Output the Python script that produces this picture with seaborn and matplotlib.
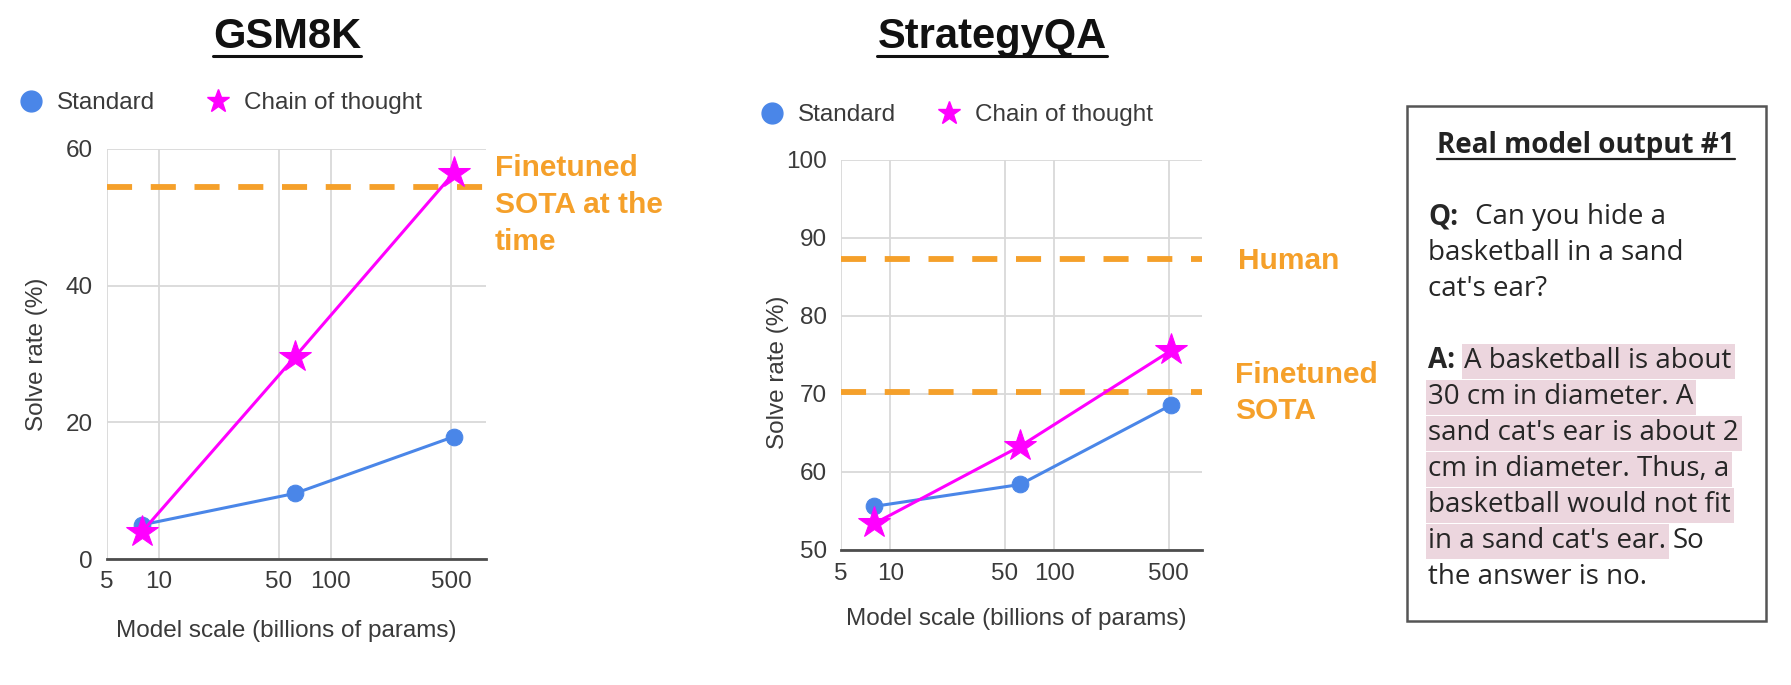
import matplotlib
matplotlib.use('Agg')
import matplotlib.pyplot as plt
import pandas as pd
import seaborn as sns
from matplotlib.lines import Line2D
from matplotlib.patches import Rectangle

# values
params = [8, 62, 520]
methods = ['Standard', 'Chain of thought']
gsm_standard = [5.0, 9.6, 17.9]
gsm_cot = [4.0, 29.6, 56.5]
gsm_sota = 54.5
sqa_standard = [55.6, 58.4, 68.6]
sqa_cot = [53.4, 63.3, 75.6]
sqa_human = 87.3
sqa_sota = 70.2
x_ticks = [5, 10, 50, 100, 500]
gsm_yticks = [0, 20, 40, 60]
sqa_yticks = [50, 60, 70, 80, 90, 100]

BLUE = '#4a86e8'
MAGENTA = '#ff00ff'
ORANGE = '#f5a02a'
GRID = '#d9d9d9'
TXT = '#3a3a3a'
PINK = '#ecd6de'

sns.set_style('white')
plt.rcParams['font.family'] = ['Liberation Sans', 'DejaVu Sans']

W, H = 1791, 685
fig = plt.figure(figsize=(W / 100, H / 100), dpi=100)


def fx(x):
    return x / W


def fy(y):
    return 1 - y / H


def make_df(std, cot):
    return pd.DataFrame({
        'params': params * 2,
        'rate': std + cot,
        'method': [methods[0]] * 3 + [methods[1]] * 3,
    })


def draw_panel(ax, df, ylim, yticks, refs):
    for val in refs:
        ax.axhline(val, color=ORANGE, lw=4.2, dashes=(4.3, 3.2),
                   dash_capstyle='butt', zorder=1.5)
    sns.lineplot(data=df[df['method'] == methods[0]], x='params', y='rate',
                 color=BLUE, lw=2.2, marker='o', markersize=12,
                 markeredgecolor=BLUE, legend=False, ax=ax, zorder=3)
    sns.lineplot(data=df[df['method'] == methods[1]], x='params', y='rate',
                 color=MAGENTA, lw=2.2, marker='*', markersize=24,
                 markeredgecolor=MAGENTA, legend=False, ax=ax, zorder=4)
    ax.set_xscale('log')
    ax.set_xlim(5, 800)
    ax.set_ylim(*ylim)
    ax.set_xticks(x_ticks)
    ax.set_xticklabels([str(t) for t in x_ticks])
    ax.minorticks_off()
    ax.set_yticks(yticks)
    ax.grid(True, color=GRID, lw=1.3)
    ax.set_axisbelow(True)
    for s in ['top', 'right', 'left']:
        ax.spines[s].set_visible(False)
    ax.spines['bottom'].set_color('#4d4d4d')
    ax.spines['bottom'].set_linewidth(2)
    ax.tick_params(axis='both', length=0, labelsize=17.5, colors=TXT)
    ax.tick_params(axis='y', pad=10)
    ax.tick_params(axis='x', pad=9)
    ax.set_xlabel('Model scale (billions of params)', fontsize=17.5, color=TXT)
    ax.set_ylabel('Solve rate (%)', fontsize=17.5, color=TXT)


ax1 = fig.add_axes([fx(107), fy(559), 379 / W, 410 / H])
draw_panel(ax1, make_df(gsm_standard, gsm_cot), (0, 60), gsm_yticks, [gsm_sota])
ax1.xaxis.set_label_coords(0.472, -0.15)
ax1.yaxis.set_label_coords(-0.155, 0.5)

ax2 = fig.add_axes([fx(841), fy(550), 361 / W, 390 / H])
draw_panel(ax2, make_df(sqa_standard, sqa_cot), (50, 100), sqa_yticks, [sqa_human, sqa_sota])
ax2.xaxis.set_label_coords(0.485, -0.15)
ax2.yaxis.set_label_coords(-0.145, 0.455)

# legends
handles = [Line2D([], [], ls='none', marker='o', ms=15, color=BLUE),
           Line2D([], [], ls='none', marker='*', ms=17, color=MAGENTA)]
for ax, x0, y0, colsp in [(ax1, 19, 103, 2.1), (ax2, 760, 115, 1.7)]:
    leg = ax.legend(handles, methods, loc='center left', ncol=2,
                    bbox_to_anchor=(fx(x0), fy(y0)), bbox_transform=fig.transFigure,
                    frameon=False, handlelength=1.0, handletextpad=0.55,
                    columnspacing=colsp, borderpad=0, borderaxespad=0, fontsize=17.5)
    for t in leg.get_texts():
        t.set_color(TXT)

# orange annotations
for i, line in enumerate(['Finetuned', 'SOTA at the', 'time']):
    fig.text(fx(495), fy(168 + 37 * i), line, color=ORANGE, fontsize=21.5,
             fontweight='bold', va='center')
fig.text(fx(1238), fy(261), 'Human', color=ORANGE, fontsize=21.5,
         fontweight='bold', va='center')
for i, line in enumerate(['Finetuned', 'SOTA']):
    fig.text(fx(1235), fy(375 + 36 * i), line, color=ORANGE, fontsize=21.5,
             fontweight='bold', va='center')

renderer = fig.canvas.get_renderer()

# underlined chart titles
for label, cx in [('GSM8K', 287), ('StrategyQA', 992)]:
    t = fig.text(fx(cx), fy(37), label, ha='center', va='center',
                 fontsize=30, fontweight='bold', color='#111111')
    bb = t.get_window_extent(renderer)
    fig.add_artist(Line2D([bb.x0 / W, bb.x1 / W], [fy(56), fy(56)],
                          transform=fig.transFigure, color='#111111', lw=2.2))

# example box
fig.add_artist(Rectangle((fx(1407), fy(621)), (1766 - 1407) / W, (621 - 106) / H,
                         transform=fig.transFigure, facecolor='white',
                         edgecolor='#555555', lw=1.8, zorder=0))
box_font = ['Open Sans', 'DejaVu Sans']
t = fig.text(fx(1586), fy(145), 'Real model output #1', ha='center', va='center',
             fontsize=20, fontweight='bold', family=box_font, color='#222222')
bb = t.get_window_extent(renderer)
fig.add_artist(Line2D([bb.x0 / W, bb.x1 / W], [fy(159), fy(159)],
                      transform=fig.transFigure, color='#222222', lw=1.6))

box_lines = [
    [('Q:', 'b'), ('Can you hide a', 'n')],
    [('basketball in a sand', 'n')],
    [("cat's ear?", 'n')],
    [],
    [('A:', 'b'), ('A basketball is about', 'h')],
    [('30 cm in diameter. A', 'h')],
    [("sand cat's ear is about 2", 'h')],
    [('cm in diameter. Thus, a', 'h')],
    [('basketball would not fit', 'h')],
    [("in a sand cat's ear.", 'h'), ('So', 'n')],
    [('the answer is no.', 'n')],
]
gaps = {'Q:': 17, 'A:': 9}
for i, pieces in enumerate(box_lines):
    yc = 217 + 36 * i
    x = 1428
    for text, kind in pieces:
        t = fig.text(fx(x), fy(yc), text, va='center', fontsize=20,
                     family=box_font, color='#262626', zorder=3,
                     fontweight='bold' if kind == 'b' else 'normal')
        bb = t.get_window_extent(renderer)
        if kind == 'h':
            fig.add_artist(Rectangle((fx(bb.x0 - 2), fy(yc + 18)), (bb.width + 5) / W, 35 / H,
                                     transform=fig.transFigure, facecolor=PINK,
                                     edgecolor='none', zorder=1))
        x = bb.x1 + gaps.get(text, 7)

fig.savefig('out.png', dpi=100, facecolor='white')
